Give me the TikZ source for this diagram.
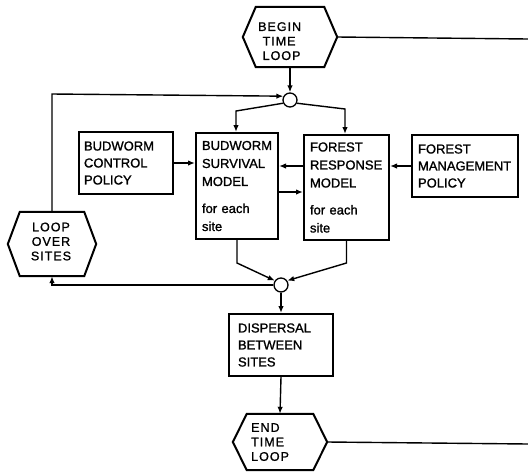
\documentclass[tikz,border=0pt]{standalone}
\usepackage{fontspec}
\setmainfont[RawFeature={embolden=1.2}]{Liberation Sans}
\newfontfamily\hexfont[LetterSpace=8,RawFeature={embolden=1.2}]{Liberation Sans}
\usetikzlibrary{arrows.meta,calc}
\newcommand\hexdraw[2]{\draw[hexline] (#1.west) -- ([xshift=#2]#1.north west) -- ([xshift=-#2]#1.north east) -- (#1.east) -- ([xshift=-#2]#1.south east) -- ([xshift=#2]#1.south west) -- cycle;}
\begin{document}
\begin{tikzpicture}[x=1pt,y=-1pt,
  box/.style={draw, line width=2pt, inner ysep=0pt, align=left, font=\fontsize{13}{17}\selectfont, anchor=center},
  tallbox/.style={box, font=\fontsize{13}{18}\selectfont},
  hexnode/.style={inner sep=0pt},
  hextext/.style={inner sep=0pt, align=left, font=\hexfont\fontsize{12.5}{14.5}\selectfont},
  junc/.style={draw, circle, line width=1.3pt, minimum size=14pt, inner sep=0pt, fill=white},
  conn/.style={line width=1.4pt},
  arr/.style={conn, -{Latex[length=7pt,width=5.5pt]}},
  hexline/.style={line width=2pt, line join=miter}]
\useasboundingbox (0,0) rectangle (528,472);

% hexagons
\node[hexnode, minimum width=94pt, minimum height=60pt] (begin) at (290,37) {};
\node[hextext, anchor=north west] (begintxt) at (258,22) {BEGIN\\\ TIME\\\ LOOP};
\node[hexnode, minimum width=88pt, minimum height=64pt] (loop) at (52,244) {};
\node[hextext, align=center] (looptxt) at (51,241.5) {LOOP\\OVER\\SITES};
\node[hexnode, minimum width=94pt, minimum height=56pt] (end) at (280,442) {};
\node[hextext, anchor=north west] (endtxt) at (251,423) {END\\TIME\\LOOP};

% boxes
\node[box, inner xsep=5pt, text width=84pt, minimum height=62pt] (ctrl) at (126,163) {BUDWORM\\CONTROL\\POLICY};
\node[tallbox, inner xsep=6pt, text width=70pt, minimum height=106pt] (surv) at (237,186) {BUDWORM\\SURVIVAL\\MODEL\\[9pt]for each\\site};
\node[tallbox, inner xsep=6pt, text width=73pt, minimum height=105pt] (resp) at (346.5,187.5) {FOREST\\RESPONSE\\MODEL\\[9pt]for each\\site};
\node[box, inner xsep=6pt, text width=94pt, minimum height=62pt] (mgmt) at (465,166) {FOREST\\MANAGEMENT\\POLICY};
\node[box, inner xsep=9pt, text width=86pt, minimum height=62pt] (disp) at (281,345) {DISPERSAL\\BETWEEN\\SITES};

% junctions
\node[junc] (tc) at (290,100) {};
\node[junc] (bc) at (281,285) {};

% coordinates
\coordinate (tl) at (52,94);
\coordinate (sa) at (236,111);
\coordinate (ra) at (345,109);
\coordinate (sb) at (237,263);
\coordinate (rb) at (346.5,263);
\coordinate (be) at (528,39);
\coordinate (ee) at (528,444);

% connectors
\draw[arr] (begin.south) -- (tc.north);
\draw[arr] (loop.north) -- (tl) -- (tc.150);
\draw[arr] (tc.205) -- (sa) -- (sa |- surv.north);
\draw[arr] (tc.-25) -- (ra) -- (ra |- resp.north);
\draw[arr] (ctrl.east) -- (surv.west |- ctrl.east);
\draw[arr] (resp.west |- mgmt.west) -- (surv.east |- mgmt.west);
\draw[arr] (mgmt.west) -- (resp.east |- mgmt.west);
\draw[arr] ([yshift=-6pt]surv.east) -- ([yshift=-6pt]surv.east -| resp.west);
\draw[arr] (surv.south) -- (sb) -- (bc.145);
\draw[arr] (resp.south) -- (rb) -- (bc.35);
\draw[arr] (bc.west) -- (loop.south |- bc.west) -- (loop.south);
\draw[arr] (bc.south) -- (disp.north);
\draw[arr] (disp.south) -- (end.north);
\draw[conn] (begin.east) -- (be);
\draw[conn] (end.east) -- (ee);

% hexagon outlines
\hexdraw{begin}{13pt}
\hexdraw{loop}{12pt}
\hexdraw{end}{14pt}
\end{tikzpicture}
\end{document}
